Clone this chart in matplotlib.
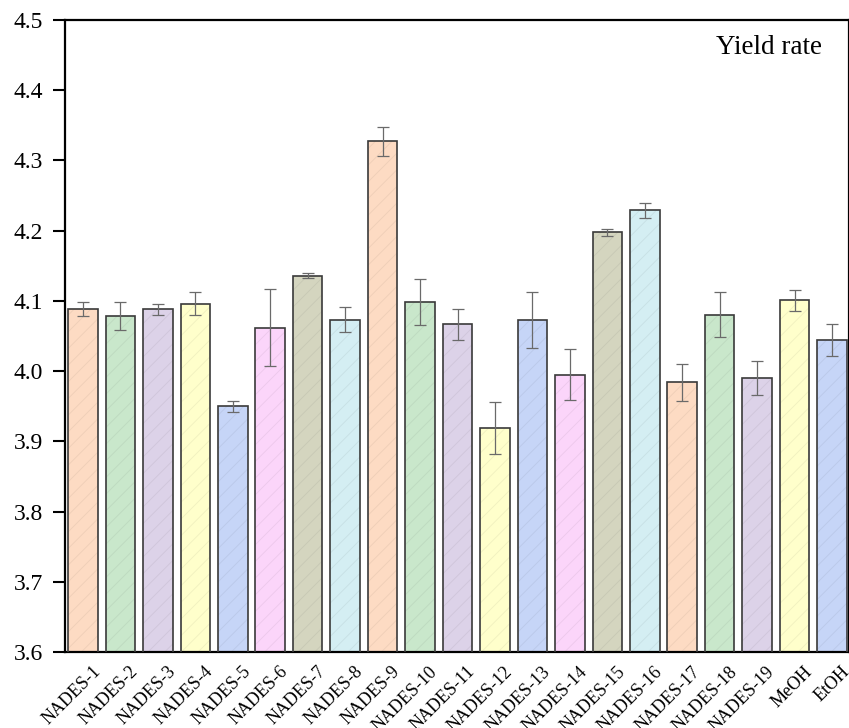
import matplotlib.pyplot as plt
import matplotlib.transforms as mtransforms
import numpy as np

categories = ["NADES-1", "NADES-2", "NADES-3", "NADES-4", "NADES-5", "NADES-6",
              "NADES-7", "NADES-8", "NADES-9", "NADES-10", "NADES-11", "NADES-12",
              "NADES-13", "NADES-14", "NADES-15", "NADES-16", "NADES-17", "NADES-18",
              "NADES-19", "MeOH", "EtOH"]
yield_rate = [4.088, 4.078, 4.088, 4.096, 3.950, 4.062, 4.136, 4.073, 4.327, 4.098,
              4.067, 3.919, 4.073, 3.995, 4.198, 4.229, 3.984, 4.080, 3.990, 4.101, 4.044]
yield_err = [0.010, 0.020, 0.008, 0.016, 0.008, 0.055, 0.004, 0.018, 0.021, 0.033,
             0.022, 0.037, 0.040, 0.036, 0.005, 0.011, 0.026, 0.032, 0.024, 0.015, 0.023]
yticks = [3.6, 3.7, 3.8, 3.9, 4.0, 4.1, 4.2, 4.3, 4.4, 4.5]

palette = ["#FDDBC3", "#C9E7CB", "#DCD2E8", "#FFFFCB",
           "#C6D5F7", "#FBD5FA", "#D4D5BF", "#D4EEF3"]
colors = [palette[i % len(palette)] for i in range(len(categories))]

plt.rcParams['font.family'] = ['Liberation Serif', 'DejaVu Serif']
plt.rcParams['hatch.linewidth'] = 0.6

fig = plt.figure(figsize=(8.49, 7.28), dpi=100)
ax = fig.add_axes([0.0766, 0.1044, 1 - 0.0766, 0.8681])

x = np.arange(len(categories))
hatch_cols = []
for c in colors:
    rgb = np.array(plt.matplotlib.colors.to_rgb(c))
    hatch_cols.append(tuple(rgb * 0.94))

# fill with faint diagonal hatch
for xi, v, fc, hc in zip(x, yield_rate, colors, hatch_cols):
    ax.bar(xi, v, width=0.79, color=fc, edgecolor=hc, hatch='//', linewidth=0, zorder=2)
# outlines + error bars
ax.bar(x, yield_rate, width=0.79, fill=False, edgecolor='#3a3a3a', linewidth=1.2, zorder=3)
ax.errorbar(x, yield_rate, yerr=yield_err, fmt='none', ecolor='#6a6a6a',
            elinewidth=0.9, capsize=4.5, capthick=0.9, zorder=4)

ax.set_ylim(3.6, 4.5)
ax.set_xlim(-0.48, 20.454)
ax.set_yticks(yticks)
ax.set_yticklabels([f"{t:.1f}" for t in yticks])
ax.set_xticks(x)
ax.set_xticklabels(categories, rotation=45, ha='right', va='top',
                   rotation_mode='anchor', fontsize=13)

ax.tick_params(axis='y', direction='out', length=8.6, width=1.5, pad=7, labelsize=17)
ax.tick_params(axis='x', length=0, pad=8)

offset = mtransforms.ScaledTranslation(0.09, 0.0, fig.dpi_scale_trans)
for lab in ax.get_xticklabels():
    lab.set_transform(lab.get_transform() + offset)

for s in ax.spines.values():
    s.set_linewidth(1.6)
    s.set_color('black')

ax.text(19.73, 4.451, "Yield rate", fontsize=19.5, ha='right', va='baseline')

fig.savefig("out.png", dpi=100)
